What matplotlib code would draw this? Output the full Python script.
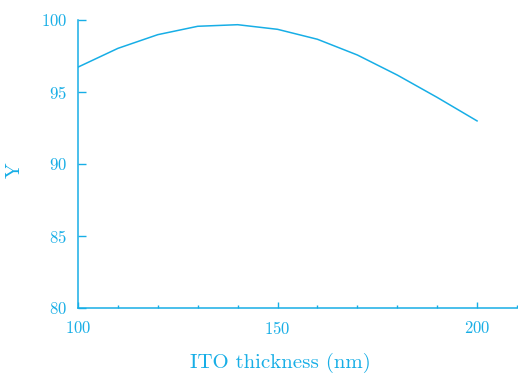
import matplotlib
matplotlib.use("Agg")
import matplotlib.pyplot as plt
from matplotlib.ticker import MultipleLocator

thickness = [100, 110, 120, 130, 140, 150, 160, 170, 180, 190, 200]
y_values = [96.7, 98.0, 98.95, 99.53, 99.64, 99.32, 98.63, 97.54, 96.15, 94.6, 92.97]

color = '#17aee6'
plt.rcParams['font.family'] = 'cmr10'
plt.rcParams['axes.formatter.use_mathtext'] = True

fig = plt.figure(figsize=(5.18, 3.73), dpi=100)
ax = fig.add_axes([0.1506, 0.1743, 0.8474, 0.7734])
ax.plot(thickness, y_values, color=color, lw=1.1)

ax.set_xlim(100, 210)
ax.set_ylim(80, 100)
ax.xaxis.set_major_locator(MultipleLocator(50))
ax.xaxis.set_minor_locator(MultipleLocator(10))
ax.yaxis.set_major_locator(MultipleLocator(5))

for s in ['top', 'right']:
    ax.spines[s].set_visible(False)
for s in ['left', 'bottom']:
    ax.spines[s].set_color(color)
    ax.spines[s].set_linewidth(1.1)

ax.tick_params(axis='x', which='major', direction='in', length=4.5, width=1,
               color=color, labelcolor=color, labelsize=12, pad=9)
ax.tick_params(axis='x', which='minor', direction='in', length=2.5, width=1, color=color)
ax.tick_params(axis='y', direction='in', length=5.5, width=1,
               color=color, labelcolor=color, labelsize=12, pad=8)

ax.set_xlabel('ITO thickness (nm)', color=color, fontsize=15)
ax.set_ylabel('Y', color=color, fontsize=15)
ax.xaxis.set_label_coords(0.46, -0.155)
ax.yaxis.set_label_coords(-0.123, 0.478)

fig.savefig('out.png', dpi=100)
